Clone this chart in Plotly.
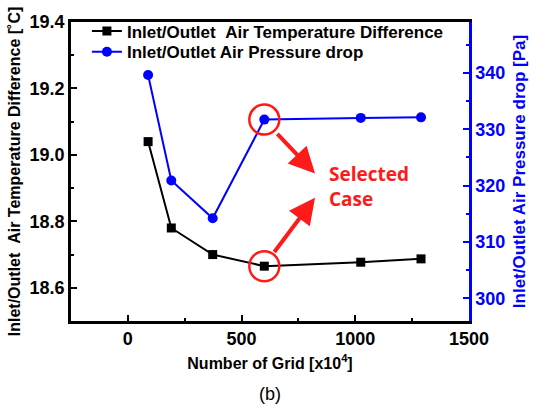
import plotly.graph_objects as go

# Grid-independence study: grid count (x10^4 cells)
grid_count = [89, 191, 373, 600, 1024, 1289]
temp_diff = [19.04, 18.78, 18.70, 18.665, 18.677, 18.687]      # [°C]
pressure_drop = [339.6, 320.9, 314.2, 331.7, 332.0, 332.1]     # [Pa]
selected_idx = 3

FONT = "Arial, Liberation Sans, sans-serif"
BLUE = "#0000ff"
RED = "#ff1a1a"

fig = go.Figure()
fig.add_trace(go.Scatter(
    x=grid_count, y=temp_diff, mode="lines+markers",
    name="Inlet/Outlet\u00a0\u00a0Air Temperature Difference",
    line=dict(color="black", width=2),
    marker=dict(symbol="square", size=9, color="black"),
    yaxis="y", legend="legend"))
fig.add_trace(go.Scatter(
    x=grid_count, y=pressure_drop, mode="lines+markers",
    name="Inlet/Outlet Air Pressure drop",
    line=dict(color=BLUE, width=2),
    marker=dict(symbol="circle", size=10, color=BLUE),
    yaxis="y2", legend="legend2"))

# Red rings around the selected case on both curves
for yref, yval in (("y", temp_diff[selected_idx]), ("y2", pressure_drop[selected_idx])):
    fig.add_shape(type="circle", xref="x", yref=yref,
                  xsizemode="pixel", ysizemode="pixel",
                  xanchor=grid_count[selected_idx], yanchor=yval,
                  x0=-15, x1=15, y0=-15, y1=15,
                  line=dict(color=RED, width=2.5))

# Arrows pointing to the label
arrow_common = dict(xref="x", yref="y", axref="x", ayref="y", text="",
                    showarrow=True, arrowhead=2, arrowsize=1.3,
                    arrowwidth=4, arrowcolor=RED)
fig.add_annotation(x=823, y=18.944, ax=651, ay=19.068, **arrow_common)
fig.add_annotation(x=823, y=18.871, ax=639, ay=18.703, **arrow_common)
fig.add_annotation(x=874, y=18.906, xref="x", yref="y", showarrow=False,
                   text="Selected<br>Case", xanchor="left", align="left",
                   font=dict(family="Open Sans, sans-serif", size=19,
                             color=RED, weight="bold"))

# Panel caption
fig.add_annotation(x=0.5, y=-0.245, xref="paper", yref="paper",
                   showarrow=False, text="(b)", yanchor="middle",
                   font=dict(family=FONT, size=18, color="black"))

tick_font = dict(family=FONT, size=18, color="black", weight="bold")
legend_common = dict(x=0.04, xanchor="left", yanchor="middle",
                     bgcolor="rgba(0,0,0,0)",
                     font=dict(family=FONT, size=17, color="black",
                               weight="bold"))

fig.update_layout(
    width=538, height=405,
    margin=dict(l=67, r=62, t=15, b=84),
    paper_bgcolor="white", plot_bgcolor="white",
    showlegend=True,
    legend=dict(y=0.968, **legend_common),
    legend2=dict(y=0.899, **legend_common),
    xaxis=dict(range=[-250, 1500], tickvals=[0, 500, 1000, 1500],
               showgrid=False, zeroline=False,
               showline=True, linecolor="black", linewidth=2.5, mirror=True,
               ticks="inside", ticklen=6, tickwidth=2, tickcolor="black",
               minor=dict(ticks="inside", ticklen=3, tickwidth=2,
                          tickvals=[250, 750, 1250], tickcolor="black"),
               tickfont=tick_font,
               title=dict(text="Number of Grid [x10<sup>4</sup>]",
                          font=dict(family=FONT, size=16, color="black",
                                    weight="bold"),
                          standoff=10)),
    yaxis=dict(range=[18.5, 19.4], tickvals=[18.6, 18.8, 19.0, 19.2, 19.4],
               ticktext=["18.6", "18.8", "19.0", "19.2", "19.4"],
               showgrid=False, zeroline=False,
               showline=True, linecolor="black", linewidth=2.5,
               ticks="inside", ticklen=6, tickwidth=2, tickcolor="black",
               minor=dict(ticks="inside", ticklen=3, tickwidth=2,
                          tickvals=[18.7, 18.9, 19.1, 19.3], tickcolor="black"),
               tickfont=tick_font,
               title=dict(text="Inlet/Outlet\u00a0\u00a0Air Temperature Difference [\u02daC]",
                          font=dict(family=FONT, size=16, color="black",
                                    weight="bold"),
                          standoff=6)),
    yaxis2=dict(range=[296, 349], tickvals=[300, 310, 320, 330, 340],
                overlaying="y", side="right",
                showgrid=False, zeroline=False,
                showline=True, linecolor=BLUE, linewidth=2.5,
                ticks="inside", ticklen=6, tickwidth=2, tickcolor=BLUE,
                minor=dict(ticks="inside", ticklen=3, tickwidth=2,
                           tickvals=[305, 315, 325, 335, 345], tickcolor=BLUE),
                tickfont=dict(family=FONT, size=18, color=BLUE, weight="bold"),
                title=dict(text="Inlet/Outlet Air Pressure drop [Pa]",
                           font=dict(family=FONT, size=17, color=BLUE,
                                     weight="bold"),
                           standoff=9)),
)

fig.write_html("out.html")
